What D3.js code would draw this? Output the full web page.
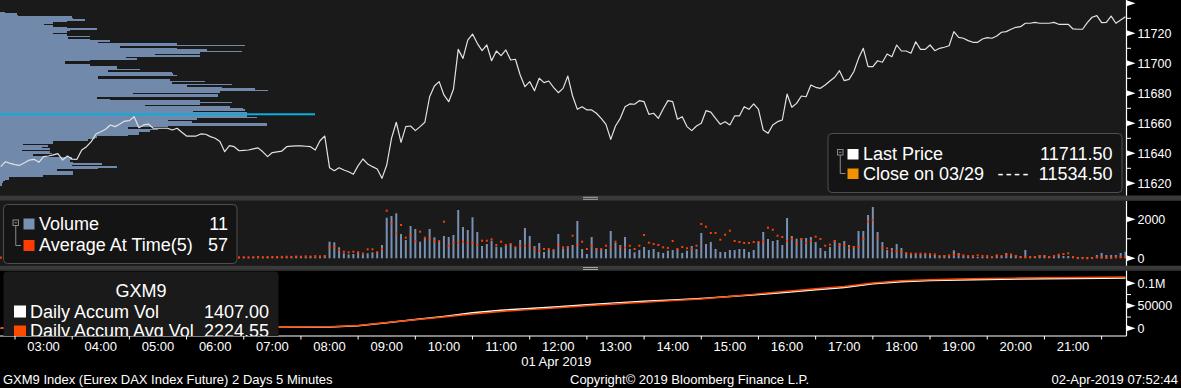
<!DOCTYPE html>
<html><head><meta charset="utf-8">
<script src="https://cdnjs.cloudflare.com/ajax/libs/d3/7.8.5/d3.min.js"></script>
<style>
html,body{margin:0;padding:0;background:#000;overflow:hidden;}
svg{display:block;font-family:"Liberation Sans",Arial,sans-serif;}
</style></head><body>
<svg id="chart" width="1181" height="388"></svg>
<script>
// ---------- DATA ----------
const firstBar = "02:15";
const barMinutes = 5;
const hourLabels = ["03:00","04:00","05:00","06:00","07:00","08:00","09:00","10:00","11:00","12:00","13:00","14:00","15:00","16:00","17:00","18:00","19:00","20:00","21:00"];
const hourTickMarks = ["02:30","03:30","04:30","05:30","06:30","07:30","08:30","09:30","10:30","11:30","12:30","13:30","14:30","15:30","16:30","17:30","18:30","19:30","20:30","21:30"];
const dateLabel = "01 Apr 2019";

const price = [
11631.1,11634.4,11633.3,11632.5,11632,11633.7,11635.5,11636,11634,11637.8,
11638.2,11638.9,11639.8,11635.5,11638.2,11636.2,11636,11642.2,11644.4,11647.8,
11652.9,11654.4,11656,11658.9,11657.8,11659.5,11661.5,11661.8,11664.4,11657.1,
11658.9,11659.5,11656.7,11656.7,11656.7,11656.7,11655.5,11656.7,11654,11651.5,
11651.5,11651.5,11652.9,11652.7,11651.1,11650,11647.8,11641.1,11645.1,11644.4,
11641.7,11642,11642.2,11643,11643.6,11641,11637.8,11640.5,11641,11641.5,
11644.4,11644.8,11644.9,11644.9,11644.7,11644.4,11642.2,11648.4,11651.5,11630.4,
11628.4,11630.4,11628.9,11627.7,11626,11631.8,11636.2,11632.9,11631.1,11629.5,
11623.3,11632.2,11650,11660.7,11647.3,11657.8,11658.2,11655.1,11657.8,11660.7,
11677.7,11684.9,11687.8,11678.9,11674.4,11682.7,11709.3,11703.3,11715.5,11719.5,
11713.3,11708.4,11712.2,11701.7,11708.2,11705.1,11708.9,11702.2,11702.7,11692.2,
11684.4,11687.8,11681.7,11690,11687.1,11688.2,11684,11680.4,11683.3,11691.5,
11678.2,11669.3,11671.1,11668.9,11668.9,11666.7,11663.3,11659.3,11649.3,11658.2,
11663.3,11671.1,11672.9,11672.7,11675.1,11674.4,11666,11666.7,11663.3,11669.5,
11675.1,11674.4,11662.7,11664.4,11657.8,11655.1,11658.2,11660,11668.4,11667.5,
11663.3,11659.3,11661.1,11658.9,11664.9,11664.9,11671.1,11669.3,11672.9,11669.3,
11655.5,11653.3,11658.9,11661.1,11662.2,11679.5,11670.7,11673.3,11678.2,11677.7,
11685.5,11684,11683.3,11685.5,11688.2,11690.7,11695.1,11688.4,11689.3,11694.4,
11703.3,11710,11697.8,11697.8,11701.7,11700.7,11706.2,11704.4,11712.2,11708.2,
11708.2,11706.7,11714.4,11709.3,11709.3,11712.2,11708.4,11710,11710.7,11711.7,
11721.1,11717.3,11716.7,11715.1,11714,11714,11716.2,11717.1,11716.7,11718.2,
11720.7,11721.1,11722.7,11724,11724.4,11726.7,11726.7,11727.3,11726.7,11726.7,
11726.7,11727.3,11726,11726,11726,11722.9,11722.7,11722.7,11727.1,11730.7,
11731.8,11727.1,11727.3,11731.5,11726.7,11728.9,11731.1];

const volume = [
40,60,30,50,80,40,30,60,20,100,
40,50,30,60,90,40,50,30,60,40,
70,100,50,40,60,30,80,50,60,40,
100,30,50,60,40,30,50,60,40,70,
30,100,50,40,60,80,40,30,60,40,
50,70,40,60,120,50,80,60,100,70,
60,80,120,90,70,100,60,120,150,851,
820,564,256,205,220,338,205,256,308,338,
682,2082,2169,2308,1246,938,1656,1503,851,1026,
1503,1077,851,1144,1092,1195,2477,1605,1451,2103,
1349,631,733,903,595,564,682,733,564,938,
1554,1144,631,785,323,425,425,1246,513,631,
682,1913,477,220,1092,528,462,477,1400,800,
682,1092,477,308,425,579,425,477,323,272,
390,425,477,272,390,631,477,1297,733,836,
477,323,323,425,425,477,477,323,425,851,
1349,990,887,938,682,2067,1144,1005,1040,1040,
1092,836,528,374,579,938,785,887,682,631,
1400,1400,2221,2631,1349,836,425,528,733,528,
272,272,237,220,220,220,169,118,169,118,
410,272,118,118,67,67,67,67,118,169,
118,272,169,169,118,425,118,118,169,169,
118,118,169,118,118,67,67,67,67,67,
169,272,169,169,169,272,338];

const avgAtTime = [
40,40,45,40,40,45,40,40,45,40,
40,45,40,40,45,40,40,45,40,45,
40,45,40,40,45,40,45,40,40,45,
40,40,45,40,45,40,40,45,50,40,
45,50,45,40,50,45,50,45,50,55,
50,55,50,55,60,55,60,70,60,75,
80,70,90,80,100,90,110,100,120,564,
564,425,338,308,338,308,250,462,462,308,
477,2441,1774,1282,1708,1056,1195,887,1364,1056,
974,887,887,1877,646,800,800,851,800,800,
682,903,903,974,682,851,682,733,564,646,
646,646,477,390,477,477,425,682,564,564,
1159,682,851,477,646,477,477,646,564,851,
564,564,646,477,646,1195,800,733,682,564,
530,887,477,579,513,477,646,1759,1621,1297,
1297,954,1210,1415,887,836,785,785,836,836,
887,1569,1467,1159,1092,887,990,767,990,785,
887,1108,990,646,700,887,682,682,530,579,
579,990,1877,1979,1056,530,513,374,374,323,
272,237,237,237,237,220,200,118,118,152,
169,169,152,118,118,152,118,118,67,152,
118,152,200,118,67,67,67,67,118,118,
67,118,186,220,255,67,5,5,0,10,
67,30,20,20,67,67,67];

// volume at price profile, one level per index point, from the top level down
const profileTopLevel = 11734;
const profileVol = [
5,17,18,72,73,85,67,53,44,53,
67,97,70,67,53,67,90,68,90,110,
98,177,245,120,177,207,242,200,155,200,
126,137,90,65,65,90,117,117,140,108,
172,173,177,98,98,170,205,172,232,187,
222,255,268,220,133,218,218,97,110,200,
232,200,145,230,243,245,193,247,197,247,
257,197,168,192,267,267,168,128,158,150,
139,139,128,97,95,88,53,53,23,48,
42,50,22,50,52,33,43,72,75,70,
73,102,72,117,98,57,73,73,73,43,
9,9,5,3,2,2];
const pocPrice = 11666;
const pocExtent = 315;

const accumTimes = ["02:15","03:00","04:00","05:00","06:00","07:00","08:00","08:30","09:00","09:30","10:00","10:30","11:00","11:30","12:00","12:30","13:00","13:30","14:00","14:30","15:00","15:30","16:00","16:30","17:00","17:30","18:00","18:30","19:00","19:30","20:00","20:30","21:00","21:30","21:55"];
const accumVol = [0,400,900,1400,1900,2400,3000,5500,12500,19500,26500,34500,40000,44000,48000,52500,56500,60000,63000,66500,70500,75000,80000,85500,90500,99000,103500,106000,107500,108500,109300,110000,110800,111400,112000];
const accumAvgVol = [0,500,1000,1600,2100,2600,3200,6000,12800,18800,25000,32000,37500,41500,45500,50000,54000,58000,61500,65000,70500,76500,82500,88000,93000,100500,105500,108000,109500,110500,111500,112300,113000,113500,113800];

const priceTicks = [11620,11640,11660,11680,11700,11720,11740];
const priceMinor = [11630,11650,11670,11690,11710,11730];
const volTicks = [0,2000];
const volMinor = [1000];
const accTicks = [0,50000,100000];
const accTickLabels = ["0","50000","0.1M"];
const accMinor = [25000,75000];

// ---------- LAYOUT ----------
const W = 1181, H = 388, AX = 1126.5;
const P1 = {top:0, bottom:195.5};
const P2 = {top:201, bottom:265.7};
const P3 = {top:270.7, bottom:336};
const toMin = s => { const [h,m] = s.split(":").map(Number); return h*60+m; };
const t0 = toMin(firstBar);
const barTime = i => t0 + i*barMinutes;

const x = d3.scaleLinear().domain([toMin("02:30"), toMin("21:30")]).range([15, 1101.6]);
const yP = d3.scaleLinear().domain([11620,11720]).range([183.3,33.3]);
const yV = d3.scaleLinear().domain([0,2000]).range([258.3,219.3]);
const yA = d3.scaleLinear().domain([0,100000]).range([328.3,283.3]);
const xProf = d3.scaleLinear().domain([0,100]).range([0,100]);

const svg = d3.select("#chart");
svg.append("rect").attr("width",W).attr("height",H).attr("fill","#000");
const defs = svg.append("defs");
function clip(id, y0, y1){
  defs.append("clipPath").attr("id",id).append("rect").attr("x",0).attr("y",y0).attr("width",AX).attr("height",y1-y0);
}
clip("c1",P1.top,P1.bottom); clip("c2",P2.top,P2.bottom); clip("c3",P3.top,P3.bottom);

// panel backgrounds
svg.append("rect").attr("x",0).attr("y",P1.top).attr("width",AX).attr("height",P1.bottom-P1.top).attr("fill","#1a1a1a");
svg.append("rect").attr("x",0).attr("y",P2.top).attr("width",AX).attr("height",P2.bottom-P2.top).attr("fill","#1a1a1a");

// separators
[[P1.bottom,P2.top],[P2.bottom,P3.top]].forEach(([a,b])=>{
  svg.append("rect").attr("x",0).attr("y",a).attr("width",W).attr("height",b-a).attr("fill","#3a3a3a");
  svg.append("rect").attr("x",0).attr("y",b-1.2).attr("width",W).attr("height",1.2).attr("fill","#2a2a2a");
  [a+1.8, a+3.8].forEach(yy=>svg.append("line").attr("x1",583).attr("x2",598).attr("y1",yy).attr("y2",yy).attr("stroke","#a8a8a8").attr("stroke-width",1));
});

// ---------- PRICE PANEL ----------
const g1 = svg.append("g").attr("clip-path","url(#c1)");
const levelTop = i => Math.round(yP(profileTopLevel - i + 0.5));
g1.selectAll("rect.prof").data(profileVol).join("rect").attr("class","prof")
  .attr("shape-rendering","crispEdges")
  .attr("x",0)
  .attr("y",(d,i)=>levelTop(i))
  .attr("width",d=>Math.round(xProf(d)))
  .attr("height",(d,i)=>levelTop(i+1)-levelTop(i))
  .attr("fill","#7189ab");
g1.append("line").attr("x1",0).attr("x2",xProf(pocExtent)).attr("y1",yP(pocPrice)).attr("y2",yP(pocPrice))
  .attr("stroke","#0aaede").attr("stroke-width",2);
g1.append("path").datum(price)
  .attr("d", d3.line().x((d,i)=>x(barTime(i))).y(d=>yP(d)))
  .attr("fill","none").attr("stroke","#e2e2e2").attr("stroke-width",1.2).attr("stroke-linejoin","round");

// ---------- VOLUME PANEL ----------
const g2 = svg.append("g").attr("clip-path","url(#c2)");
g2.selectAll("rect.vb").data(volume).join("rect").attr("class","vb")
  .attr("x",(d,i)=>x(barTime(i))-1).attr("width",2)
  .attr("y",d=>yV(d)).attr("height",d=>yV(0)-yV(d)).attr("fill","#7890b2");
g2.selectAll("rect.av").data(avgAtTime).join("rect").attr("class","av")
  .attr("x",(d,i)=>x(barTime(i))-1).attr("width",2)
  .attr("y",d=>yV(d)-1).attr("height",2).attr("fill","#ff3d00");

// ---------- ACCUM PANEL ----------
const g3 = svg.append("g").attr("clip-path","url(#c3)");
const accLine = d3.line().x((d,i)=>x(toMin(accumTimes[i]))).y(d=>yA(d));
g3.append("path").datum(accumVol).attr("d",accLine).attr("fill","none").attr("stroke","#ffffff").attr("stroke-width",1.5);
g3.append("path").datum(accumAvgVol).attr("d",accLine).attr("fill","none").attr("stroke","#ff4a00").attr("stroke-width",1.5);

// ---------- RIGHT AXES ----------
const axG = svg.append("g").attr("fill","#fff").attr("font-size","12.5px");
function rightAxis(scale, y0, y1, ticks, labels, minor, showLabel){
  axG.append("line").attr("x1",AX).attr("x2",AX).attr("y1",y0).attr("y2",y1).attr("stroke","#fff").attr("stroke-width",1.2);
  axG.selectAll(null).data(ticks).join("path")
    .attr("d",d=>{const y=scale(d);return `M${AX},${y-3}L${AX+9},${y}L${AX},${y+3}Z`;})
    .attr("fill","#fff");
  axG.selectAll(null).data(minor).join("line")
    .attr("x1",AX).attr("x2",AX+4.5).attr("y1",d=>scale(d)).attr("y2",d=>scale(d)).attr("stroke","#fff");
  axG.selectAll(null).data(ticks.filter(showLabel)).join("text")
    .attr("x",AX+11).attr("y",d=>scale(d)).attr("dy","0.36em")
    .text((d)=>labels(d));
}
rightAxis(yP, P1.top, P1.bottom, priceTicks, d=>d, priceMinor, d=>d<=11720);
rightAxis(yV, P2.top, P2.bottom, volTicks, d=>d, volMinor, d=>true);
rightAxis(yA, P3.top, P3.bottom, accTicks, d=>accTickLabels[accTicks.indexOf(d)], accMinor, d=>true);

// ---------- BOTTOM AXIS ----------
const bx = svg.append("g");
bx.append("line").attr("x1",0).attr("x2",AX).attr("y1",P3.bottom).attr("y2",P3.bottom).attr("stroke","#fff").attr("stroke-width",1.2);
bx.selectAll(null).data(hourTickMarks).join("line")
  .attr("x1",d=>x(toMin(d))).attr("x2",d=>x(toMin(d))).attr("y1",P3.bottom).attr("y2",P3.bottom+3.5).attr("stroke","#fff");
bx.selectAll(null).data(hourLabels).join("text")
  .attr("x",d=>x(toMin(d))).attr("y",350.6).attr("text-anchor","middle")
  .attr("fill","#fff").attr("font-size","13px").text(d=>d);
bx.append("text").attr("x",x(toMin("12:00"))-2).attr("y",366.3).attr("text-anchor","middle")
  .attr("fill","#fff").attr("font-size","13px").text(dateLabel);

svg.append("text").attr("x",3).attr("y",384).attr("fill","#fff").attr("font-size","13px").text("GXM9 Index (Eurex DAX Index Future) 2 Days 5 Minutes");
svg.append("text").attr("x",570).attr("y",384).attr("fill","#fff").attr("font-size","13px").text("Copyright\u00A9 2019 Bloomberg Finance L.P.");
svg.append("text").attr("x",1178).attr("y",384).attr("text-anchor","end").attr("fill","#fff").attr("font-size","13px").text("02-Apr-2019 07:52:44");

// ---------- LEGENDS ----------
function treeIcon(g, x0, y0, yEnd){
  g.append("rect").attr("x",x0).attr("y",y0).attr("width",5.5).attr("height",5.5).attr("fill","none").attr("stroke","#8a8a8a").attr("stroke-width",1);
  g.append("line").attr("x1",x0+1.5).attr("x2",x0+4).attr("y1",y0+2.75).attr("y2",y0+2.75).attr("stroke","#8a8a8a");
  g.append("path").attr("d",`M${x0+2.75},${y0+5.5}V${yEnd}H${x0+8}`).attr("fill","none").attr("stroke","#8a8a8a");
}
// price legend
const L1 = svg.append("g").attr("font-size","18px").attr("fill","#fff");
L1.append("rect").attr("x",828).attr("y",133.5).attr("width",294).attr("height",59).attr("rx",4).attr("fill","#141414").attr("stroke","#4e4e4e");
treeIcon(L1, 837.5, 149.5, 173.5);
L1.append("rect").attr("x",847.5).attr("y",149).attr("width",11).attr("height",10.5).attr("fill","#ffffff");
L1.append("rect").attr("x",847.5).attr("y",168.5).attr("width",11).attr("height",10.5).attr("fill","#f39200");
L1.append("text").attr("x",863).attr("y",159.5).text("Last Price");
L1.append("text").attr("x",1112.5).attr("y",159.5).attr("text-anchor","end").text("11711.50");
L1.append("text").attr("x",863).attr("y",179.5).text("Close on 03/29");
L1.append("text").attr("x",997.5).attr("y",179.5).attr("letter-spacing","2.3px").text("----");
L1.append("text").attr("x",1112.5).attr("y",179.5).attr("text-anchor","end").text("11534.50");

// volume legend
const L2 = svg.append("g").attr("font-size","18px").attr("fill","#fff");
L2.append("rect").attr("x",3.5).attr("y",204.5).attr("width",233.5).attr("height",59).attr("rx",4).attr("fill","#141414").attr("stroke","#4e4e4e");
treeIcon(L2, 13, 220, 245.5);
L2.append("rect").attr("x",23.5).attr("y",218.5).attr("width",11).attr("height",11).attr("fill","#7890b2");
L2.append("rect").attr("x",23.5).attr("y",240).attr("width",11).attr("height",11).attr("fill","#ff3d00");
L2.append("text").attr("x",39).attr("y",230).text("Volume");
L2.append("text").attr("x",228).attr("y",230).attr("text-anchor","end").text("11");
L2.append("text").attr("x",39).attr("y",251.2).text("Average At Time(5)");
L2.append("text").attr("x",228).attr("y",251.2).attr("text-anchor","end").text("57");

// accum legend (clipped to panel)
const L3 = svg.append("g").attr("clip-path","url(#c3)").attr("font-size","18px").attr("fill","#fff");
L3.append("rect").attr("x",3.5).attr("y",271.5).attr("width",275).attr("height",80).attr("rx",4).attr("fill","#1a1a1a");
L3.append("text").attr("x",141).attr("y",297.3).attr("text-anchor","middle").text("GXM9");
L3.append("rect").attr("x",14).attr("y",305.5).attr("width",12).attr("height",12).attr("fill","#ffffff");
L3.append("rect").attr("x",14).attr("y",325.5).attr("width",12).attr("height",12).attr("fill","#ff4a00");
L3.append("text").attr("x",30).attr("y",318.3).text("Daily Accum Vol");
L3.append("text").attr("x",269).attr("y",318.3).attr("text-anchor","end").text("1407.00");
L3.append("text").attr("x",30).attr("y",337.3).text("Daily Accum Avg Vol");
L3.append("text").attr("x",269).attr("y",337.3).attr("text-anchor","end").text("2224.55");
</script>
</body></html>
